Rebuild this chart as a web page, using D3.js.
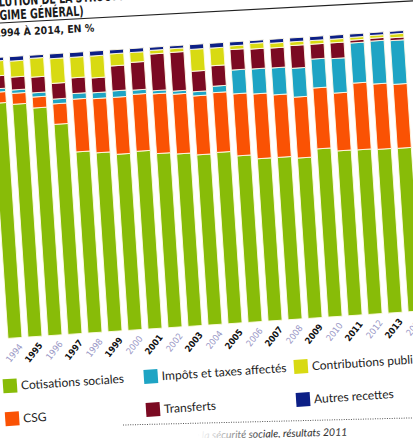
<!DOCTYPE html>
<html>
<head>
<meta charset="utf-8">
<script src="https://cdn.jsdelivr.net/npm/d3@7"></script>
<style>
  html, body { margin: 0; padding: 0; background: #fff; overflow: hidden; }
</style>
</head>
<body>
<div id="chart"></div>
<script>
const width = 413, height = 438;

// data (share of receipts, %)
const years = ["1994", "1995", "1996", "1997", "1998", "1999", "2000", "2001", "2002", "2003", "2004",
               "2005", "2006", "2007", "2008", "2009", "2010", "2011", "2012", "2013", "2014"];
const cotisations   = [83.8, 83.0, 81.2, 74.9, 64.6, 63.8, 62.8, 63.4, 62.1, 61.5, 60.7, 61.1, 59.4, 57.9, 57.9, 57.2, 60.0, 58.8, 58.7, 58.4, 58.3];
const csg           = [3.9, 3.9, 3.9, 7.3, 18.8, 19.3, 20.3, 20.3, 21.3, 21.3, 21.0, 21.3, 22.1, 23.1, 22.3, 21.7, 21.7, 20.6, 23.8, 23.3, 22.8];
const impots        = [1.2, 1.2, 1.5, 1.7, 2.0, 2.1, 2.3, 1.5, 1.1, 1.1, 1.5, 2.3, 8.5, 8.9, 9.6, 10.3, 10.3, 12.3, 14.3, 15.3, 15.6];
const transferts    = [4.6, 4.6, 5.6, 5.6, 5.6, 5.3, 8.9, 9.9, 13.1, 13.8, 7.3, 7.3, 7.3, 7.1, 7.1, 8.1, 5.3, 5.6, 1.0, 1.0, 1.0];
const contributions = [5.3, 5.7, 6.7, 8.8, 7.3, 7.8, 4.3, 3.5, 1.3, 1.3, 7.8, 6.3, 1.3, 2.0, 1.7, 1.3, 1.3, 1.3, 1.0, 1.0, 1.3];
const autres        = [1.2, 1.6, 1.1, 1.7, 1.7, 1.7, 1.4, 1.4, 1.1, 1.0, 1.7, 1.7, 1.4, 1.0, 1.4, 1.4, 1.4, 1.4, 1.2, 1.0, 1.0];

const seriesKeys  = ["cot", "csg", "imp", "tra", "con", "aut"];
const seriesNames = ["Cotisations sociales", "CSG", "Impôts et taxes affectés", "Transferts", "Contributions publiques", "Autres recettes"];
const colors      = ["#88bc08", "#fa5204", "#1ea4c4", "#7b0a22", "#d8da12", "#0c1f86"];

const rows = years.map((y, i) => ({
  year: y, cot: cotisations[i], csg: csg[i], imp: impots[i],
  tra: transferts[i], con: contributions[i], aut: autres[i]
}));

const svg = d3.select("#chart").append("svg")
  .attr("width", width).attr("height", height)
  .style("display", "block");

const defs = svg.append("defs");
const fade = defs.append("linearGradient").attr("id", "fade")
  .attr("gradientUnits", "userSpaceOnUse").attr("x1", -150).attr("x2", -80).attr("y1", 0).attr("y2", 0);
fade.append("stop").attr("offset", 0).attr("stop-color", "#fff");
fade.append("stop").attr("offset", 1).attr("stop-color", "#333");

// title block (photo is tilted)
const title = svg.append("g").attr("transform", "translate(0,23) rotate(-3.06)")
  .style("font-family", "'Liberation Sans Narrow', 'DejaVu Sans Condensed', 'Roboto Condensed', sans-serif")
  .style("font-weight", "bold").attr("fill", "#1b1b1b");

function hiddenPrefix(sel, n) {
  return sel.node().getSubStringLength(0, n);
}
const narrow = title.append("g").attr("transform", "scale(0.78,1)");
const t1 = narrow.append("text").attr("y", -16.5).style("font-size", "13.5px")
  .text("ÉVOLUTION DE LA STRUCTURE DES RECETTES");
t1.attr("x", -hiddenPrefix(t1, 3));
const t2 = narrow.append("text").attr("y", -3).style("font-size", "13.5px")
  .text("(RÉGIME GÉNÉRAL)");
t2.attr("x", -hiddenPrefix(t2, 3));
const t3 = title.append("text").attr("y", 13.5).style("font-size", "10.5px")
  .text("DE 1994 À 2014, EN %");
t3.attr("x", -hiddenPrefix(t3, 4));
title.append("line").attr("x1", 0).attr("x2", 430).attr("y1", 0).attr("y2", 0)
  .attr("stroke", "#222").attr("stroke-width", 1.1);

// chart + legend, same tilt
const g = svg.append("g").attr("transform", "rotate(-3.8, 206, 219)");

const x = d3.scaleBand().domain(years).range([-2.5, 418.6]).paddingInner(0.3).paddingOuter(0.15);
const y = d3.scaleLinear().domain([0, 100]).range([325, 44]);

const stacked = d3.stack().keys(seriesKeys)(rows);

g.selectAll("g.layer").data(stacked).join("g")
  .attr("class", "layer")
  .attr("fill", (d, i) => colors[i])
  .selectAll("rect").data(d => d).join("rect")
  .attr("x", d => x(d.data.year))
  .attr("width", x.bandwidth())
  .attr("y", d => y(d[1]))
  .attr("height", d => y(d[0]) - y(d[1]))
  .attr("stroke", "#fffbe6").attr("stroke-width", 0.9);

const axis = g.append("g").attr("transform", `translate(0,${y(0)})`)
  .call(d3.axisBottom(x).tickSize(0).tickSizeOuter(0));
axis.select(".domain").remove();
axis.selectAll("text")
  .attr("x", 0).attr("y", 0).attr("dy", 0)
  .attr("transform", "translate(7.5,9.5) rotate(-48)")
  .attr("text-anchor", "end")
  .style("font-family", "'Liberation Sans Narrow', 'DejaVu Sans Condensed', sans-serif")
  .style("font-size", "9px")
  .style("font-weight", d => (+d % 2 ? "bold" : "normal"))
  .attr("fill", d => (+d % 2 ? "#111" : "#9a98c6"));

// legend
const legendCols = [-0.6, 140.5, 290.9];
const legendRows = [372.5, 405.5];
const legendItems = seriesNames.map((name, i) => ({
  name, color: colors[i], cx: legendCols[Math.floor(i / 2)], cy: legendRows[i % 2]
}));
const leg = g.selectAll("g.leg").data(legendItems).join("g").attr("class", "leg")
  .attr("transform", d => `translate(${d.cx},${d.cy})`);
leg.append("rect").attr("x", -7).attr("y", -7).attr("width", 14).attr("height", 14)
  .attr("fill", d => d.color);
leg.append("text").attr("x", 11).attr("y", 4.5)
  .style("font-family", "Lato, 'Noto Sans', sans-serif").style("font-size", "12px")
  .attr("fill", "#1c1c1c").text(d => d.name);

// source line
const src = svg.append("g").attr("transform", "translate(123,425) rotate(-1.4)");
src.append("line").attr("x1", 0).attr("x2", 300).attr("y1", 0).attr("y2", 0)
  .attr("stroke", "#555").attr("stroke-width", 1).attr("stroke-dasharray", "1,1.4");
src.append("g").attr("transform", "translate(224,16)")
  .append("text").attr("text-anchor", "end")
  .style("font-family", "Lato, 'Noto Sans', sans-serif").style("font-style", "italic").style("font-size", "10.5px")
  .attr("fill", "url(#fade)")
  .text("Source : Commission des comptes de la sécurité sociale, résultats 2011");
</script>
</body>
</html>
